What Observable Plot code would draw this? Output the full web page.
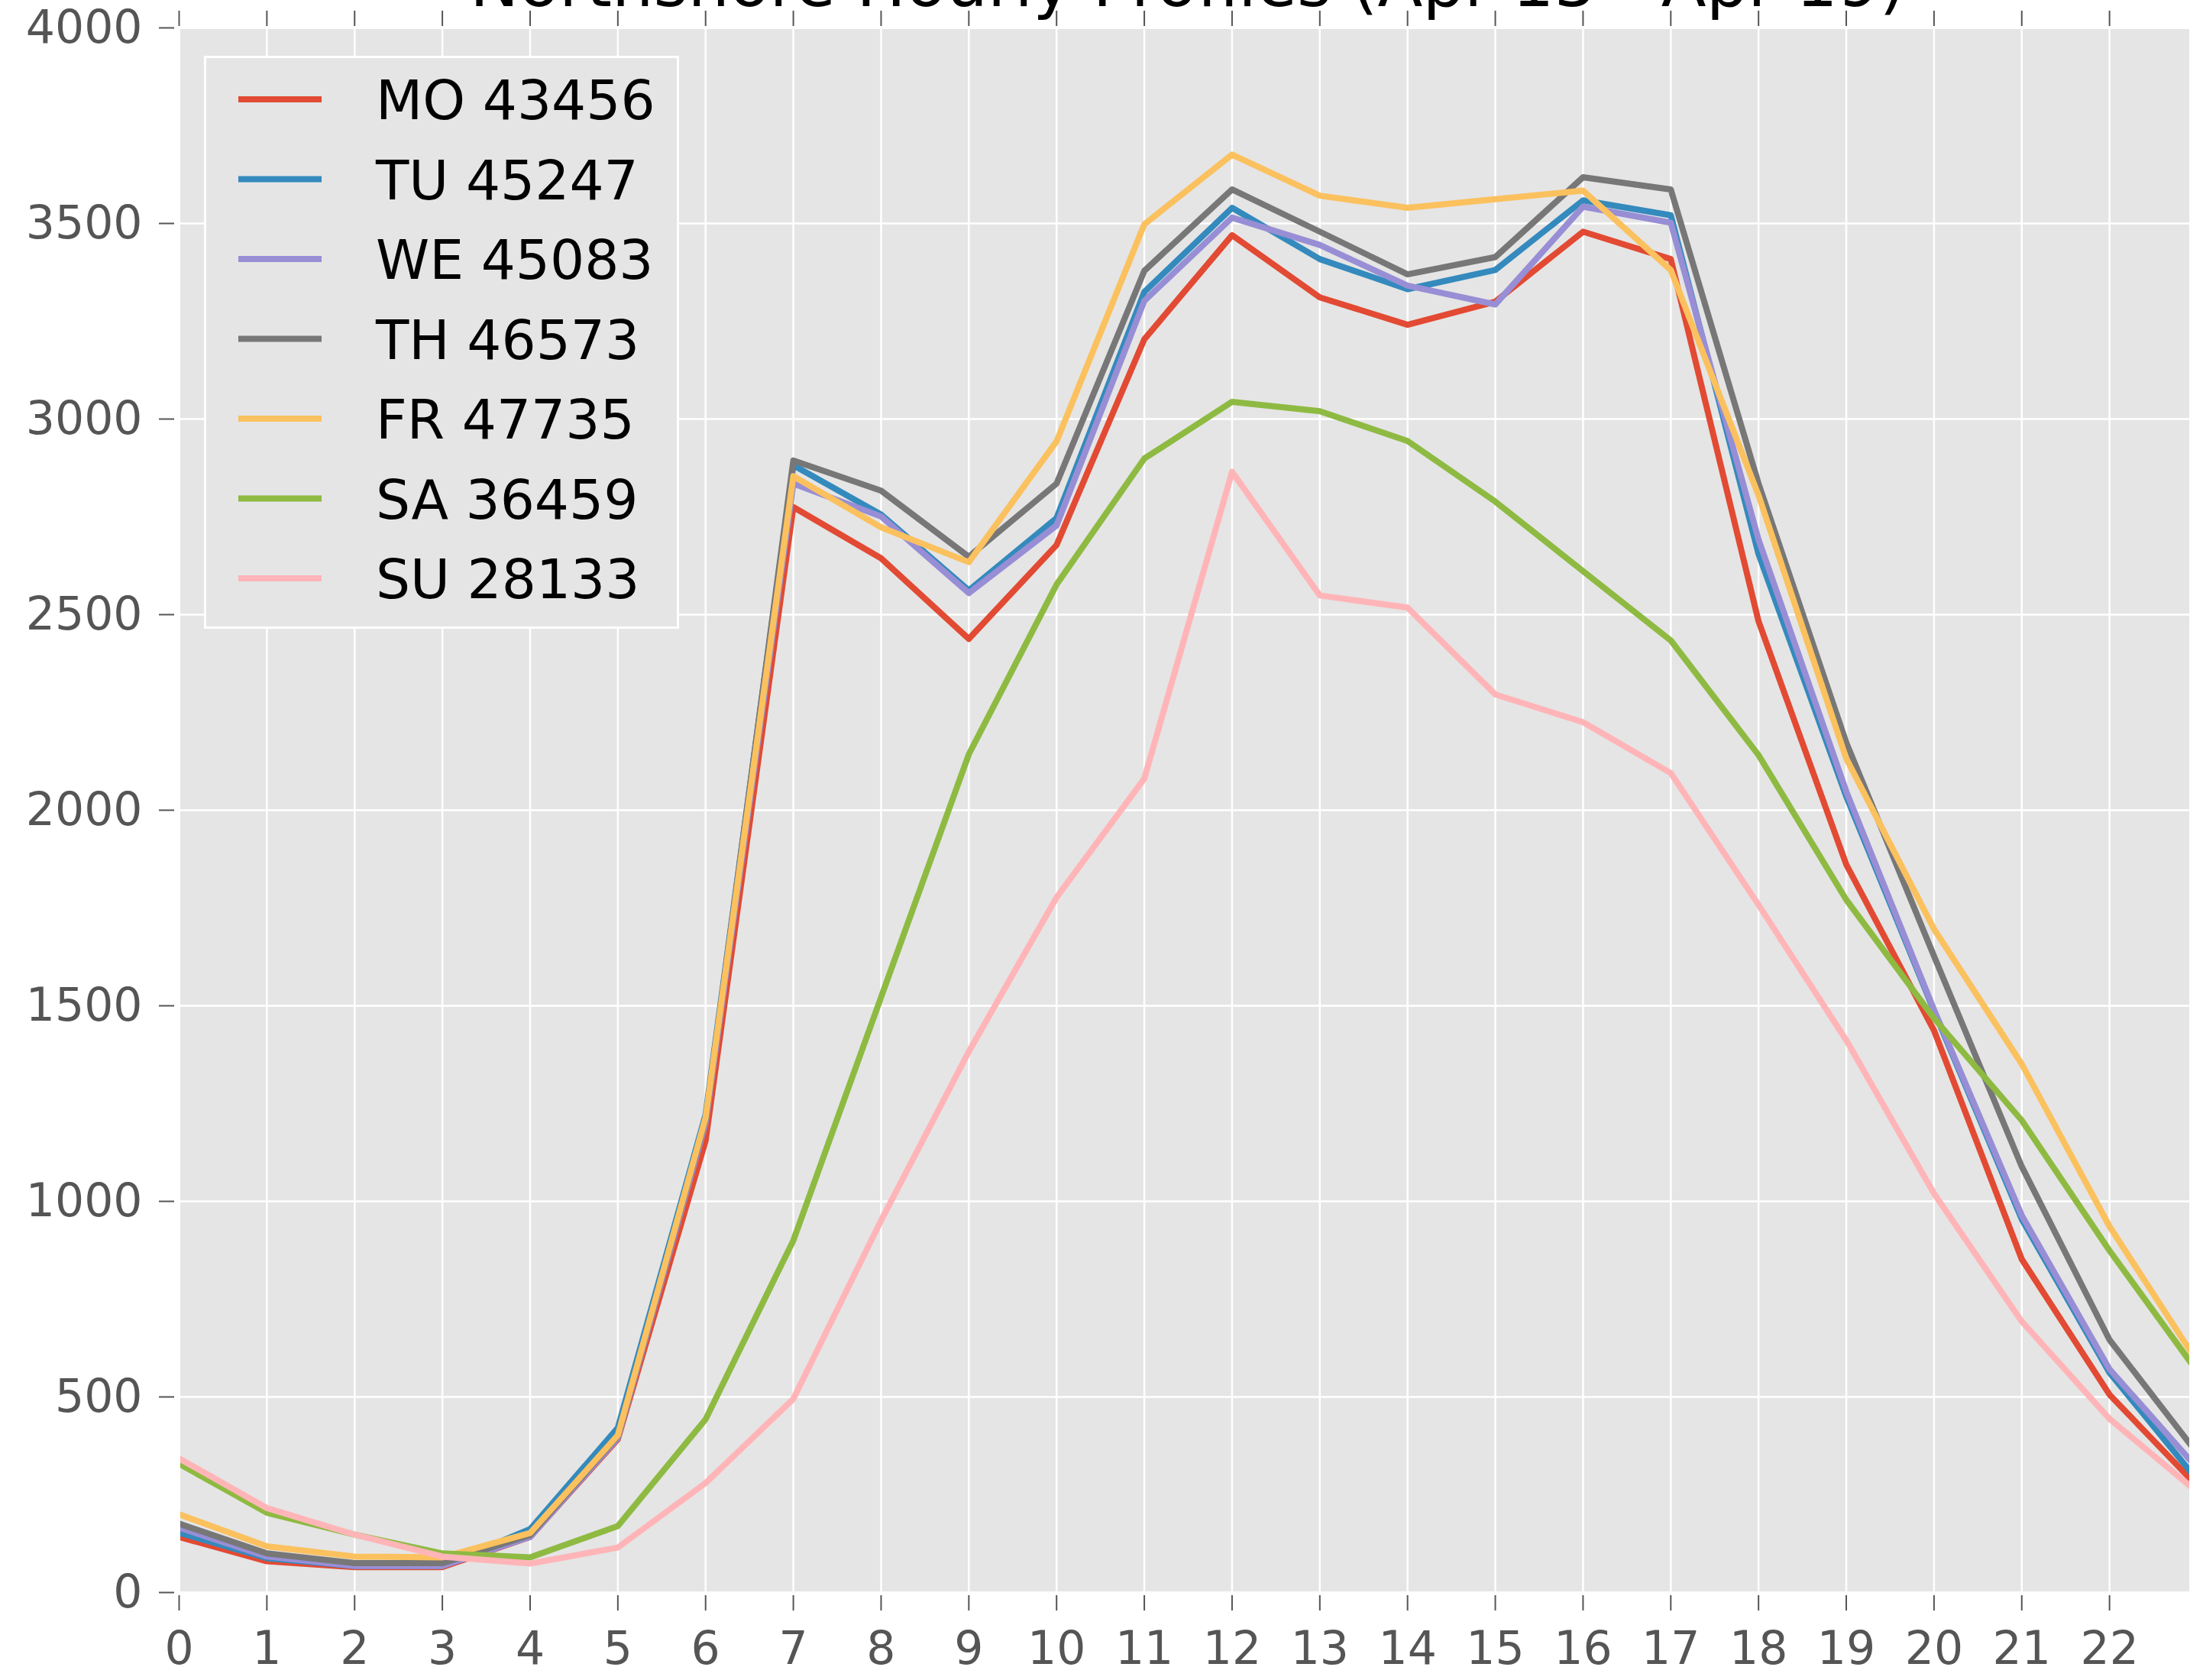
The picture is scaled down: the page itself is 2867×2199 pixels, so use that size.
<!DOCTYPE html>
<html>
<head>
<meta charset="utf-8">
<script src="https://cdn.jsdelivr.net/npm/d3@7"></script>
<script src="https://cdn.jsdelivr.net/npm/@observablehq/plot@0.6"></script>
<style>
html, body { margin: 0; padding: 0; background: #fff; overflow: hidden; }
#wrap { position: relative; width: 2867px; height: 2199px; overflow: hidden; font-family: "DejaVu Sans", sans-serif; }
#chart { position: absolute; left: 0; top: 0; }
#title { position: absolute; left: 0; top: -65px; width: 3109px; text-align: center; font-size: 86px; line-height: 86px; color: #000; white-space: nowrap; }
#legend { position: absolute; left: 267px; top: 73px; width: 622px; height: 750px; box-sizing: border-box; border: 3px solid #fff; background: #E5E5E5; }
#legend svg { position: absolute; left: -3px; top: -3px; overflow: visible; }
</style>
</head>
<body>
<div id="wrap">
  <div id="chart"></div>
  <div id="title"></div>
  <div id="legend"></div>
</div>
<script>
const titleText = "Northshore Hourly Profiles (Apr 13 - Apr 19)";
const hours = d3.range(0, 24);
const xTicks = d3.range(0, 23);
const yTicks = d3.range(0, 4001, 500);
const days = ["MO", "TU", "WE", "TH", "FR", "SA", "SU"];
const totals = [43456, 45247, 45083, 46573, 47735, 36459, 28133];
const colors = ["#E24A33", "#348ABD", "#988ED5", "#777777", "#FBC15E", "#8EBA42", "#FFB5B8"];

const MO = [142, 80, 65, 65, 142, 392, 1155, 2775, 2644, 2438, 2678, 3204, 3470, 3311, 3241, 3300, 3479, 3409, 2483, 1861, 1437, 852, 506, 272];
const TU = [153, 88, 68, 68, 162, 421, 1222, 2882, 2756, 2562, 2747, 3325, 3540, 3409, 3332, 3381, 3559, 3521, 2655, 2035, 1487, 954, 562, 288];
const WE = [166, 92, 68, 68, 142, 395, 1200, 2835, 2751, 2555, 2728, 3302, 3515, 3445, 3341, 3293, 3543, 3502, 2692, 2048, 1490, 964, 571, 318];
const TH = [176, 100, 75, 75, 147, 400, 1210, 2894, 2817, 2648, 2835, 3379, 3587, 3479, 3370, 3414, 3618, 3587, 2835, 2173, 1627, 1089, 646, 356];
const FR = [200, 118, 92, 90, 152, 402, 1214, 2854, 2723, 2634, 2943, 3498, 3676, 3571, 3540, 3562, 3584, 3381, 2805, 2132, 1696, 1351, 936, 590];
const SA = [329, 204, 148, 100, 90, 170, 443, 900, 1522, 2143, 2577, 2899, 3044, 3020, 2944, 2789, 2611, 2434, 2141, 1771, 1468, 1207, 874, 565];
const SU = [343, 216, 148, 92, 74, 115, 280, 495, 951, 1383, 1777, 2081, 2865, 2549, 2518, 2296, 2225, 2095, 1758, 1412, 1020, 693, 444, 257];

const series = [MO, TU, WE, TH, FR, SA, SU];
const data = days.flatMap((d, i) => hours.map((h, j) => ({day: d, hour: h, value: series[i][j]})));

const tickColor = "#555555";

const chart = Plot.plot({
  width: 2867,
  height: 2199,
  marginLeft: 234,
  marginRight: 0,
  marginTop: 36,
  marginBottom: 115,
  style: {fontFamily: "'DejaVu Sans', sans-serif", background: "white"},
  x: {domain: [0, 23], range: [234, 2876]},
  y: {domain: [0, 4000]},
  color: {domain: days, range: colors},
  marks: [
    Plot.frame({fill: "#E5E5E5"}),
    Plot.gridX({ticks: xTicks, stroke: "white", strokeOpacity: 1, strokeWidth: 2.5}),
    Plot.gridY({ticks: yTicks, stroke: "white", strokeOpacity: 1, strokeWidth: 2.5}),
    Plot.line(data, {x: "hour", y: "value", stroke: "day", strokeWidth: 8, clip: true, strokeLinejoin: "round", strokeLinecap: "butt"}),
    Plot.frame({stroke: "white", strokeWidth: 3}),
    Plot.axisY({ticks: yTicks, tickFormat: d => String(d), tickSize: 20, tickPadding: 22, dx: -6, fontSize: 60, color: tickColor, strokeWidth: 2, label: null}),
    Plot.axisX({anchor: "bottom", ticks: xTicks, tickFormat: d => String(d), tickSize: 20, tickPadding: 27, dy: 4, fontSize: 60, color: tickColor, strokeWidth: 2, label: null}),
    Plot.axisX({anchor: "top", ticks: xTicks, tickSize: 20, dy: -3, tickFormat: () => "", color: tickColor, strokeWidth: 2, label: null})
  ]
});
document.getElementById("chart").appendChild(chart);
document.getElementById("title").textContent = titleText;

// Legend
const legendSvg = d3.select("#legend").append("svg")
  .attr("width", 622).attr("height", 750);
days.forEach((d, i) => {
  const cy = 57 + i * 104.5;
  legendSvg.append("line")
    .attr("x1", 45).attr("x2", 154)
    .attr("y1", cy).attr("y2", cy)
    .attr("stroke", colors[i]).attr("stroke-width", 8);
  legendSvg.append("text")
    .attr("x", 225).attr("y", cy + 26)
    .attr("font-family", "'DejaVu Sans', sans-serif")
    .attr("font-size", 71)
    .attr("fill", "#000")
    .text(`${d} ${totals[i]}`);
});
</script>
</body>
</html>
